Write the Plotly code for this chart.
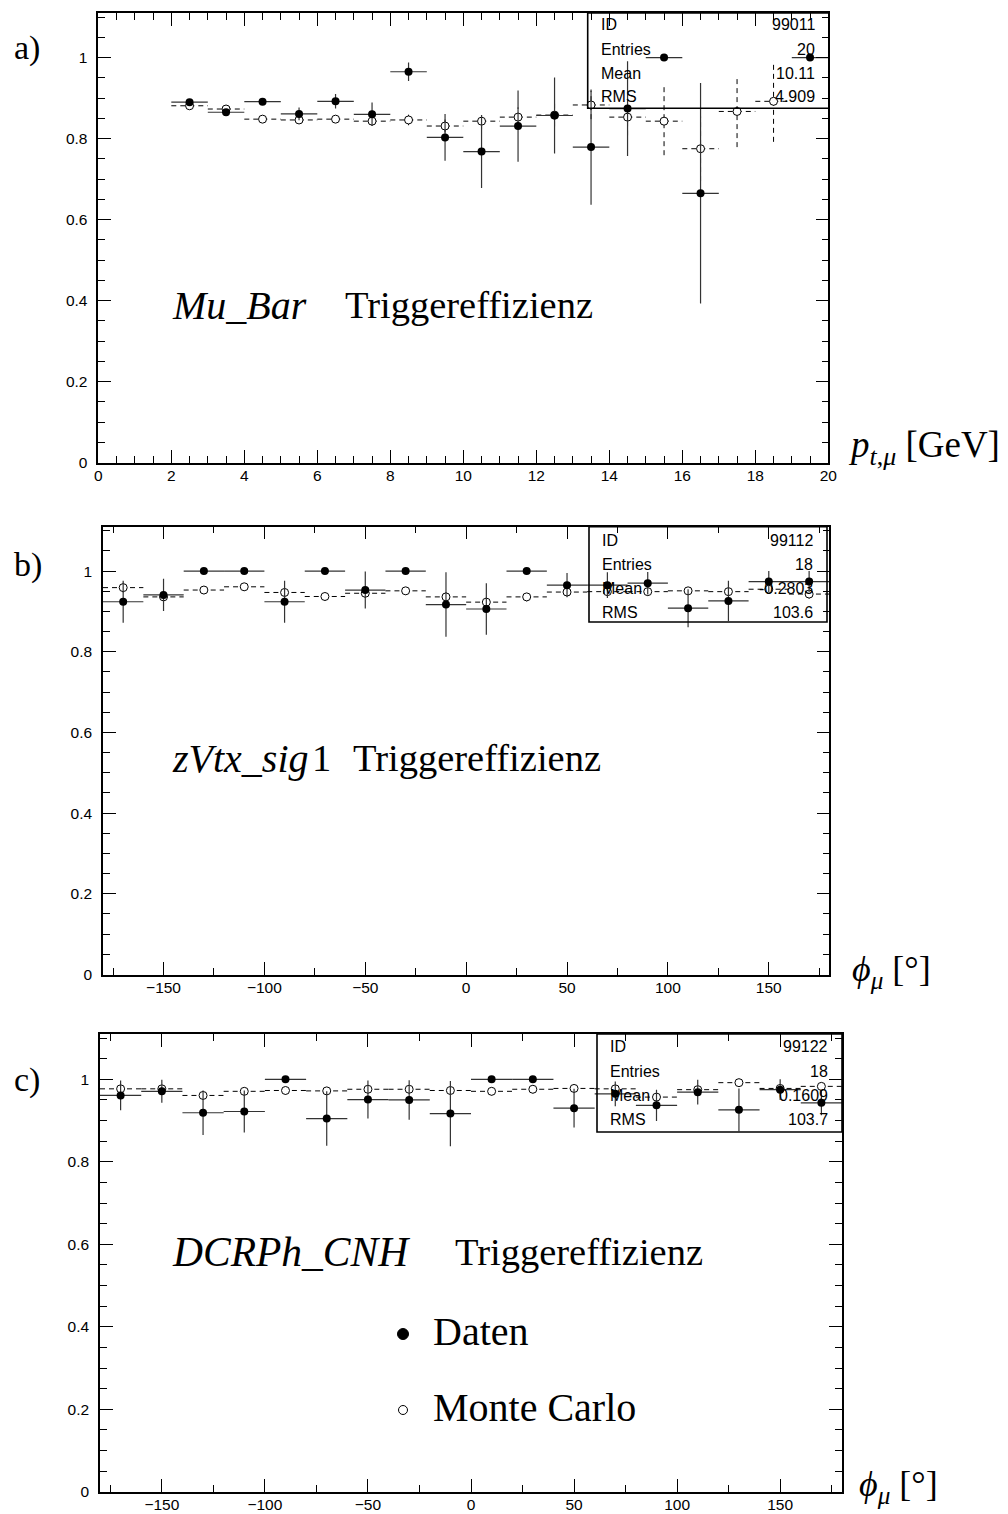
import plotly.graph_objects as go

# The page body adds an 8px margin, so the figure is 8px smaller and every
# pixel position measured on the reference is shifted by that offset.
OFF = 8
W, H = 1008 - OFF, 1514 - OFF

# ---------------- data ----------------
# Panel a: efficiency vs p_t (GeV), bin width 1
PT_CENTERS = [2.5, 3.5, 4.5, 5.5, 6.5, 7.5, 8.5, 9.5, 10.5, 11.5, 12.5, 13.5, 14.5, 15.5, 16.5, 17.5, 18.5, 19.5]
PT_HALFWIDTH = 0.5
PT_DATA = [0.890, 0.865, 0.891, 0.861, 0.892, 0.860, 0.965, 0.803, 0.768, 0.831, 0.857, 0.779, 0.874, 1.000, 0.665, None, None, 1.000]
PT_DATA_ERR = [0.007, 0.006, 0.006, 0.016, 0.018, 0.029, 0.023, 0.058, 0.090, 0.088, 0.094, 0.142, 0.117, 0.0, 0.272, None, None, 0.0]
PT_MC = [0.881, 0.873, 0.848, 0.846, 0.848, 0.843, 0.846, 0.831, 0.843, 0.853, 0.858, 0.883, 0.853, 0.843, 0.775, 0.867, 0.892, None]
PT_MC_ERR = [0.005, 0.006, 0.007, 0.008, 0.009, 0.011, 0.013, 0.016, 0.020, 0.024, 0.028, 0.035, 0.045, 0.084, 0.080, 0.088, 0.100, None]

# Panels b, c: efficiency vs phi (deg), bin width 20
PHI_CENTERS = [-170, -150, -130, -110, -90, -70, -50, -30, -10, 10, 30, 50, 70, 90, 110, 130, 150, 170]
PHI_HALFWIDTH = 10

ZVTX_DATA = [0.924, 0.941, 1.000, 1.000, 0.924, 1.000, 0.953, 1.000, 0.917, 0.906, 1.000, 0.965, 0.965, 0.970, 0.908, 0.926, 0.974, 0.974]
ZVTX_DATA_ERR = [0.052, 0.040, 0.0, 0.0, 0.052, 0.0, 0.046, 0.0, 0.080, 0.064, 0.0, 0.030, 0.032, 0.028, 0.047, 0.050, 0.026, 0.026]
ZVTX_MC = [0.959, 0.936, 0.953, 0.961, 0.947, 0.937, 0.945, 0.951, 0.936, 0.923, 0.936, 0.948, 0.949, 0.949, 0.951, 0.949, 0.955, 0.943]
ZVTX_MC_ERR = [0.012, 0.011, 0.010, 0.010, 0.011, 0.011, 0.011, 0.010, 0.012, 0.012, 0.011, 0.010, 0.010, 0.010, 0.010, 0.010, 0.010, 0.011]

DCR_DATA = [0.961, 0.971, 0.919, 0.922, 1.000, 0.905, 0.951, 0.950, 0.917, 1.000, 1.000, 0.930, 0.965, 0.937, 0.969, 0.926, 0.975, 0.943]
DCR_DATA_ERR = [0.036, 0.028, 0.054, 0.051, 0.0, 0.066, 0.046, 0.048, 0.079, 0.0, 0.0, 0.047, 0.030, 0.038, 0.030, 0.052, 0.025, 0.030]
DCR_MC = [0.977, 0.977, 0.961, 0.971, 0.973, 0.972, 0.976, 0.976, 0.973, 0.971, 0.976, 0.978, 0.977, 0.957, 0.975, 0.992, 0.978, 0.983]
DCR_MC_ERR = [0.010, 0.010, 0.011, 0.010, 0.010, 0.010, 0.010, 0.010, 0.010, 0.010, 0.010, 0.010, 0.010, 0.012, 0.010, 0.010, 0.010, 0.010]

# axes ticks
Y_TICKS = [0, 0.2, 0.4, 0.6, 0.8, 1.0]
Y_TICKTEXT = ["0", "0.2", "0.4", "0.6", "0.8", "1"]
PT_TICKS = [0, 2, 4, 6, 8, 10, 12, 14, 16, 18, 20]
PHI_TICKS = [-150, -100, -50, 0, 50, 100, 150]

# stat boxes
STATS = [
    (["ID", "Entries", "Mean", "RMS"], ["99011", "20", "10.11", "4.909"]),
    (["ID", "Entries", "Mean", "RMS"], ["99112", "18", "-0.2803", "103.6"]),
    (["ID", "Entries", "Mean", "RMS"], ["99122", "18", "0.1609", "103.7"]),
]

# ---------------- helpers ----------------
def px(x):
    return (x - OFF) / W

def py(y):
    return 1 - (y - OFF) / H

fig = go.Figure()

SERIF = "Liberation Serif"
SANS = "Liberation Sans"


def add_panel(i, xs, hw, data, derr, mc, mcerr):
    xa = "x" if i == 1 else f"x{i}"
    ya = "y" if i == 1 else f"y{i}"
    # MC dashed error bars (horizontal + vertical)
    hx, hy, vx, vy = [], [], [], []
    for x, y, e in zip(xs, mc, mcerr):
        if y is None:
            continue
        hx += [x - hw, x + hw, None]
        hy += [y, y, None]
        vx += [x, x, None]
        vy += [y - e, y + e, None]
    fig.add_trace(go.Scatter(x=hx + vx, y=hy + vy, mode="lines", xaxis=xa, yaxis=ya,
                             line=dict(color="black", width=1, dash="5px,4px"),
                             hoverinfo="skip", showlegend=False))
    fig.add_trace(go.Scatter(x=[x for x, y in zip(xs, mc) if y is not None],
                             y=[y for y in mc if y is not None],
                             mode="markers", xaxis=xa, yaxis=ya,
                             marker=dict(symbol="circle", size=8, color="white",
                                         line=dict(color="black", width=1)),
                             showlegend=False))
    # Data with solid error bars
    dx = [x for x, y in zip(xs, data) if y is not None]
    dy = [y for y in data if y is not None]
    de = [e for e, y in zip(derr, data) if y is not None]
    fig.add_trace(go.Scatter(x=dx, y=dy, mode="markers", xaxis=xa, yaxis=ya,
                             marker=dict(symbol="circle", size=8, color="black"),
                             error_x=dict(type="constant", value=hw, color="#333", thickness=1.2, width=0),
                             error_y=dict(type="data", array=de, color="#333", thickness=1.2, width=0),
                             showlegend=False))


add_panel(1, PT_CENTERS, PT_HALFWIDTH, PT_DATA, PT_DATA_ERR, PT_MC, PT_MC_ERR)
add_panel(2, PHI_CENTERS, PHI_HALFWIDTH, ZVTX_DATA, ZVTX_DATA_ERR, ZVTX_MC, ZVTX_MC_ERR)
add_panel(3, PHI_CENTERS, PHI_HALFWIDTH, DCR_DATA, DCR_DATA_ERR, DCR_MC, DCR_MC_ERR)

# frames in pixels of the reference: (left, right, top, bottom)
FRAMES = [(98.3, 828.3, 13.0, 462.7), (103.0, 829.3, 526.7, 974.5), (100.0, 842.0, 1034.0, 1491.7)]

axis_common = dict(showline=True, linewidth=1.5, linecolor="black", mirror="ticks",
                   ticks="inside", tickwidth=1, tickcolor="black", ticklen=13,
                   showgrid=False, zeroline=False, automargin=False,
                   tickfont=dict(family=SANS, size=15.5, color="black"))

layout = dict(width=W, height=H, margin=dict(l=0, r=0, t=0, b=0, autoexpand=False),
              plot_bgcolor="white", paper_bgcolor="white", showlegend=False)

for i, (l, r, t, b) in enumerate(FRAMES, start=1):
    k = "" if i == 1 else str(i)
    if i == 1:
        xr = [0, 20]
        xt = dict(tickvals=PT_TICKS, ticktext=[str(v) for v in PT_TICKS],
                  minor=dict(tick0=0, dtick=0.5, ticks="inside", ticklen=7, tickwidth=1, tickcolor="black"))
    else:
        xr = [-180, 180]
        xt = dict(tickvals=PHI_TICKS,
                  minor=dict(tick0=-175, dtick=25, ticks="inside", ticklen=7, tickwidth=1, tickcolor="black"))
    layout["xaxis" + k] = dict(axis_common, domain=[px(l), px(r)], range=xr,
                               anchor="y" + k, ticklabelstandoff=-2, **xt)
    layout["yaxis" + k] = dict(axis_common, domain=[py(b), py(t)], range=[0, 1.11],
                               anchor="x" + k, tickvals=Y_TICKS, ticktext=Y_TICKTEXT,
                               ticklabelstandoff=6,
                               minor=dict(tick0=0, dtick=0.05, ticks="inside", ticklen=7,
                                          tickwidth=1, tickcolor="black"))

fig.update_layout(**layout)

# ---------------- stat boxes ----------------
BOXES = [(587.7, 829.0, 13.0, 108.3), (589.0, 827.0, 526.7, 622.0), (597.0, 842.0, 1034.0, 1132.0)]
ROWS = [[25, 50, 74, 97], [540, 564, 588, 612], [1046, 1071, 1095, 1119]]
shapes = []
annotations = []
for (l, r, t, b), rows, (names, vals) in zip(BOXES, ROWS, STATS):
    shapes.append(dict(type="rect", xref="paper", yref="paper", x0=px(l), x1=px(r), y0=py(b), y1=py(t),
                       line=dict(color="black", width=1.6), fillcolor="rgba(0,0,0,0)", layer="above"))
    for yy, n, v in zip(rows, names, vals):
        annotations.append(dict(xref="paper", yref="paper", x=px(l + 11), y=py(yy), text=n,
                                xanchor="left", yanchor="middle", showarrow=False,
                                font=dict(family=SANS, size=16, color="black")))
        annotations.append(dict(xref="paper", yref="paper", x=px(r - 12), y=py(yy), text=v,
                                xanchor="right", yanchor="middle", showarrow=False,
                                font=dict(family=SANS, size=16, color="black")))


def txt(x, y, text, size=37, family=SERIF, anchor="left"):
    annotations.append(dict(xref="paper", yref="paper", x=px(x), y=py(y), text=text,
                            xanchor=anchor, yanchor="middle", showarrow=False,
                            font=dict(family=family, size=size, color="black")))


# panel labels
txt(12, 48, "a)", 34)
txt(12, 565, "b)", 34)
txt(12, 1080, "c)", 34)

# panel titles
txt(170, 305, "<i>Mu_Bar</i>", 40)
txt(343, 305, "Triggereffizienz", 38.5)
txt(170, 758, "<i>zVtx_sig</i>", 40)
txt(310, 758, "1", 38.5)
txt(351, 758, "Triggereffizienz", 38.5)
txt(170, 1252, "<i>DCRPh_CNH</i>", 41.5)
txt(453, 1252, "Triggereffizienz", 38.5)

# legend
txt(431, 1331, "Daten", 40)
txt(431, 1407, "Monte Carlo", 40)
r1 = 5.5
shapes.append(dict(type="circle", xref="paper", yref="paper", x0=px(403 - r1), x1=px(403 + r1),
                   y0=py(1334 + r1), y1=py(1334 - r1), fillcolor="black", line=dict(color="black", width=1)))
r2 = 4.5
shapes.append(dict(type="circle", xref="paper", yref="paper", x0=px(403 - r2), x1=px(403 + r2),
                   y0=py(1410 + r2), y1=py(1410 - r2), fillcolor="white", line=dict(color="black", width=1)))

# axis titles
txt(846, 448, "<i>p</i><sub><i>t</i>,<i>μ</i></sub> [GeV]", 37)
txt(850, 971, "<i>ϕ</i><sub><i>μ</i></sub> [°]", 36)
txt(857, 1486, "<i>ϕ</i><sub><i>μ</i></sub> [°]", 36)

fig.update_layout(shapes=shapes, annotations=annotations)

fig.write_html("out.html")
